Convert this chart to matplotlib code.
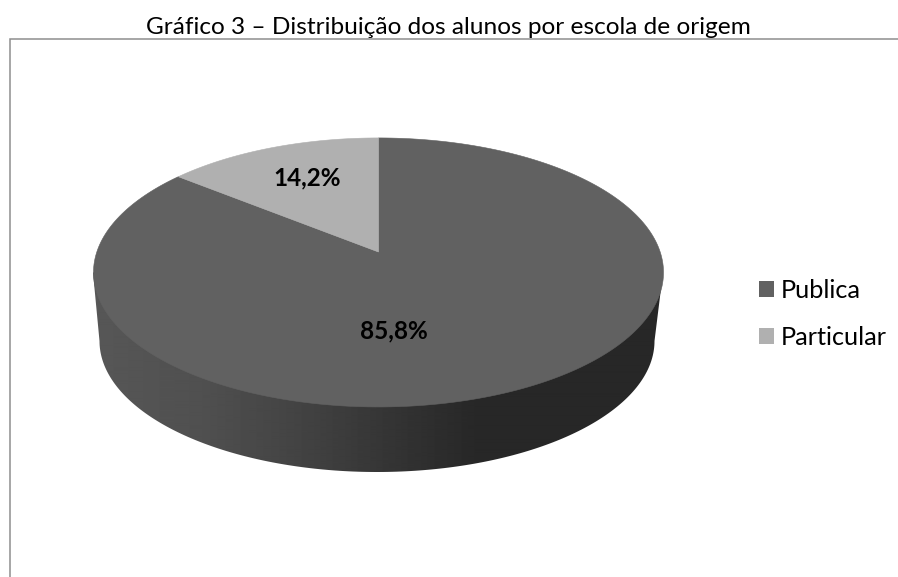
import numpy as np
import matplotlib
matplotlib.use("Agg")
import matplotlib.pyplot as plt
from matplotlib.patches import Polygon, Patch
from matplotlib.transforms import Affine2D

title = "Gráfico 3 – Distribuição dos alunos por escola de origem"
categories = ["Publica", "Particular"]
shares = [85.8, 14.2]
labels = ["85,8%", "14,2%"]

colors = ["#616161", "#b0b0b0"]
label_xy = [(394, 331), (307, 178)]

plt.rcParams['font.family'] = ['Lato', 'DejaVu Sans']

fig = plt.figure(figsize=(8.98, 5.77), dpi=100, facecolor="white")
ax = fig.add_axes([0, 0, 1, 1])

wedges, _ = ax.pie(shares, colors=colors, startangle=90, counterclock=False,
                   radius=1, center=(0, 0))

# perspective projection of the unit pie onto the tilted top face
VX, VY = 378.5, 252.0
K, A, B = 0.152, 131.4, 281.7


def project(pts):
    x, y = pts[:, 0], pts[:, 1]
    d = 1 + K * y
    return np.column_stack([VX + B * x / d, VY - A * y / d])


# side wall: hull of lower top-face rim and bottom ellipse, with a shading gradient
t = np.linspace(0, np.pi, 200)
bcx, bcy, ba, bb = 377.0, 341.0, 277.5, 131.0
bottom = np.column_stack([bcx + ba * np.cos(t), bcy + bb * np.sin(t)])
tcx, tcy, ta = 378.0, 272.5, 285.0
outline = np.vstack([[[tcx + ta, tcy]], bottom, [[tcx - ta, tcy]]])
side = Polygon(outline, closed=True, facecolor="none", edgecolor="none")
ax.add_patch(side)
stop_x = [93, 200, 300, 400, 480, 663]
stop_v = [0x57, 0x50, 0x43, 0x33, 0x27, 0x27]
xs = np.arange(90, 668)
grad = np.interp(xs, stop_x, stop_v)[None, :] / 255.0
im = ax.imshow(grad, cmap="gray", vmin=0, vmax=1, aspect="auto",
               extent=(90, 668, 480, 260), interpolation="bilinear", zorder=1)
im.set_clip_path(side)

for w, c in zip(wedges, colors):
    path = w.get_patch_transform().transform_path(w.get_path())
    poly = path.to_polygons(transform=Affine2D().scale(2000), closed_only=True)[0] / 2000
    ax.add_patch(Polygon(project(poly), closed=True, facecolor=c,
                         edgecolor=c, linewidth=0.4, zorder=2))
    w.remove()

for (x, y), s in zip(label_xy, labels):
    ax.text(x, y, s, ha="center", va="center", fontsize=17.5,
            fontweight="bold", color="black", zorder=3)

ax.text(448, 28, title, ha="center", va="center", fontsize=17.6, color="black")

ax.plot([10, 10, 898], [577, 39, 39], color="#8e8e8e", lw=1.1,
        solid_joinstyle="miter", zorder=3)

handles = [Patch(facecolor=c, edgecolor="none") for c in colors]
ax.legend(handles, categories, loc="center left", frameon=False,
          bbox_to_anchor=(0.8452, 0.456), fontsize=18.2, handlelength=0.59,
          handleheight=0.59, handletextpad=0.28, labelspacing=0.98,
          borderpad=0, borderaxespad=0)

ax.set_xlim(0, 898)
ax.set_ylim(577, 0)
ax.set_aspect("auto")
ax.axis("off")

fig.savefig("out.png", dpi=100, facecolor="white")
